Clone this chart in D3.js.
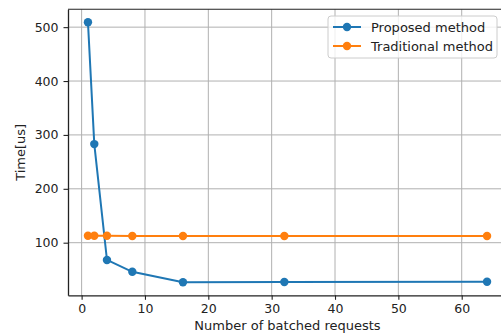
<!DOCTYPE html>
<html>
<head>
<meta charset="utf-8">
<script src="https://cdn.jsdelivr.net/npm/d3@7"></script>
<style>
    body { margin: 0; background: #fff; }
    svg { display: block; font-family: "DejaVu Sans", sans-serif; }
</style>
</head>
<body>
<div id="chart"></div>
<script>
// batch sizes and times
var batches = [1, 2, 4, 8, 16, 32, 64];
var proposed = [509, 283, 68, 46, 26.5, 27, 27.5];
var traditional = [113, 113, 113, 112.5, 112.5, 112.5, 112.5];
var seriesNames = ["Proposed method", "Traditional method"];
var xTicks = [0, 10, 20, 30, 40, 50, 60];
var yTicks = [100, 200, 300, 400, 500];

var width = 501, height = 336;
var margin = { left: 68, top: 9.3, right: -6, bottom: 40.7 };
var colors = ["#1f77b4", "#ff7f0e"];

// matplotlib-like 5% padding around the data
function padded(values) {
    var ext = d3.extent(values);
    var pad = (ext[1] - ext[0]) * 0.05;
    return [ext[0] - pad, ext[1] + pad];
}

var x = d3.scaleLinear()
    .domain(padded(batches))
    .range([margin.left, width - margin.right]);

var y = d3.scaleLinear()
    .domain(padded(proposed.concat(traditional)))
    .range([height - margin.bottom, margin.top]);

var svg = d3.select("#chart").append("svg")
    .attr("width", width)
    .attr("height", height);

// grid
svg.append("g")
    .attr("stroke", "#b0b0b0")
    .attr("stroke-width", 1)
    .selectAll("line.gx")
    .data(xTicks)
    .join("line")
    .attr("x1", d => x(d)).attr("x2", d => x(d))
    .attr("y1", margin.top).attr("y2", height - margin.bottom);

svg.append("g")
    .attr("stroke", "#b0b0b0")
    .attr("stroke-width", 1)
    .selectAll("line.gy")
    .data(yTicks)
    .join("line")
    .attr("x1", margin.left).attr("x2", width - margin.right)
    .attr("y1", d => y(d)).attr("y2", d => y(d));

// axes
var xAxis = svg.append("g")
    .attr("transform", "translate(0," + (height - margin.bottom) + ")")
    .call(d3.axisBottom(x).tickValues(xTicks).tickSize(4.5).tickPadding(4).tickSizeOuter(0));

var yAxis = svg.append("g")
    .attr("transform", "translate(" + margin.left + ",0)")
    .call(d3.axisLeft(y).tickValues(yTicks).tickSize(4.5).tickPadding(5).tickSizeOuter(0));

[xAxis, yAxis].forEach(function (ax) {
    ax.select(".domain").attr("stroke", "#222").attr("stroke-width", 1.3);
    ax.selectAll(".tick line").attr("stroke", "#222").attr("stroke-width", 1.1);
    ax.selectAll(".tick text")
        .attr("fill", "#222")
        .style("font-size", "12.5px")
        .style("font-family", "DejaVu Sans, sans-serif");
});

// top spine
svg.append("line")
    .attr("x1", margin.left).attr("x2", width)
    .attr("y1", margin.top).attr("y2", margin.top)
    .attr("stroke", "#222").attr("stroke-width", 1.1);

// series
var series = [proposed, traditional];
var line = d3.line()
    .x((d, i) => x(batches[i]))
    .y(d => y(d));

series.forEach(function (vals, k) {
    var g = svg.append("g");
    g.append("path")
        .datum(vals)
        .attr("fill", "none")
        .attr("stroke", colors[k])
        .attr("stroke-width", 2)
        .attr("d", line);
    g.selectAll("circle")
        .data(vals)
        .join("circle")
        .attr("cx", (d, i) => x(batches[i]))
        .attr("cy", d => y(d))
        .attr("r", 4.2)
        .attr("fill", colors[k]);
});

// axis labels
svg.append("text")
    .attr("x", (margin.left + x(67.15)) / 2)
    .attr("y", 330)
    .attr("text-anchor", "middle")
    .attr("fill", "#222")
    .style("font-size", "13px")
    .text("Number of batched requests");

svg.append("text")
    .attr("transform", "translate(25," + ((margin.top + height - margin.bottom) / 2) + ") rotate(-90)")
    .attr("text-anchor", "middle")
    .attr("fill", "#222")
    .style("font-size", "13px")
    .text("Time[us]");

// legend
var legend = svg.append("g").attr("transform", "translate(328,16)");
legend.append("rect")
    .attr("width", 169).attr("height", 42)
    .attr("rx", 3)
    .attr("fill", "#fff").attr("fill-opacity", 0.8)
    .attr("stroke", "#ccc");

seriesNames.forEach(function (name, k) {
    var row = legend.append("g").attr("transform", "translate(0," + (11 + k * 19) + ")");
    row.append("line")
        .attr("x1", 5).attr("x2", 33)
        .attr("stroke", colors[k]).attr("stroke-width", 2);
    row.append("circle")
        .attr("cx", 19).attr("r", 4.2)
        .attr("fill", colors[k]);
    row.append("text")
        .attr("x", 43).attr("y", 4.8)
        .attr("fill", "#222")
        .style("font-size", "13px")
        .text(name);
});
</script>
</body>
</html>
